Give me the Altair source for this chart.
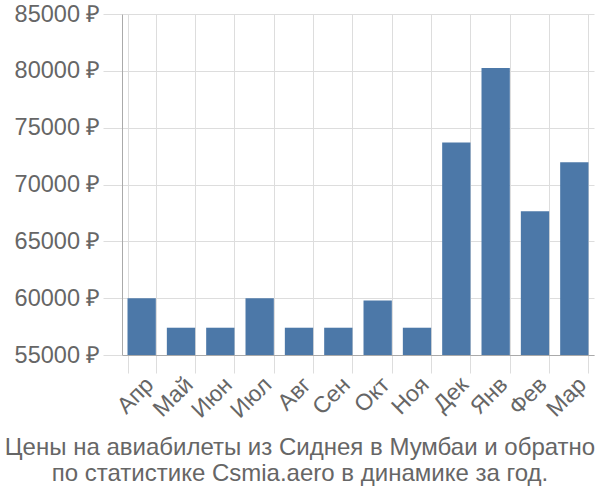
import altair as alt
import pandas as pd

months = ["Апр", "Май", "Июн", "Июл", "Авг", "Сен", "Окт", "Ноя", "Дек", "Янв", "Фев", "Мар"]
prices = [60000, 57400, 57400, 60000, 57400, 57400, 59800, 57400, 73700, 80250, 67650, 71950]
y_ticks = [55000, 60000, 65000, 70000, 75000, 80000, 85000]
y_min, y_max = 55000, 85000
title_lines = ["Цены на авиабилеты из Сиднея в Мумбаи и обратно",
               "по статистике Csmia.aero в динамике за год."]

df = pd.DataFrame({"month": months, "price": prices})

FONT = "Liberation Sans"
TXT = "#666666"

bars = alt.Chart(df).mark_bar(color="#4c78a8").encode(
    x=alt.X("month:N", sort=months, title=None,
            scale=alt.Scale(paddingInner=0.28, paddingOuter=0.14),
            axis=alt.Axis(labelAngle=-45, labelFontSize=23, labelColor=TXT, labelFont=FONT,
                          tickBand="extent", tickSize=18, tickColor="#dddddd",
                          grid=True, gridColor="#dddddd", domainColor="#aaaaaa",
                          labelPadding=0)),
    y=alt.Y("price:Q", title=None,
            scale=alt.Scale(domain=[y_min, y_max], nice=False, zero=False),
            axis=alt.Axis(values=y_ticks, labelExpr="datum.value + ' ₽'",
                          labelFontSize=23.5, labelColor=TXT, labelFont=FONT,
                          tickSize=19, tickColor="#dddddd", gridColor="#dddddd",
                          domainColor="#aaaaaa", labelPadding=3)),
    y2=alt.datum(y_min),
)

chart = bars.properties(
    width=472, height=341,
    title=alt.TitleParams(title_lines, orient="bottom", anchor="middle", dx=-58,
                          fontSize=24, font=FONT, color=TXT, fontWeight="normal",
                          offset=14, lineHeight=26),
    padding={"left": 122, "top": 14, "right": 6, "bottom": 145},
    autosize=alt.AutoSizeParams(type="none"),
).configure_view(stroke=None)

chart.save("out.html", embed_options={"renderer": "svg", "actions": False})
